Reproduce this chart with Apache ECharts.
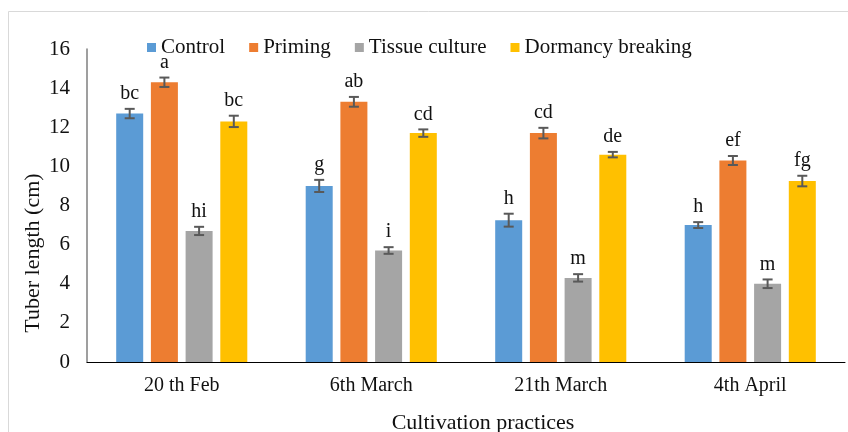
<!DOCTYPE html>
<html>
<head>
<meta charset="utf-8">
<script src="https://cdn.jsdelivr.net/npm/echarts@6/dist/echarts.min.js"></script>
<style>html,body{margin:0;padding:0;background:#fff;}#c{width:848px;height:432px;}</style>
</head>
<body>
<div id="c"></div>
<script>
const categories = ['20 th Feb', '6th March', '21th March', '4th April'];
const seriesNames = ['Control', 'Priming', 'Tissue culture', 'Dormancy breaking'];
const control = [12.7, 9.0, 7.25, 7.0];
const priming = [14.3, 13.3, 11.7, 10.3];
const tissue = [6.7, 5.7, 4.3, 4.0];
const dormancy = [12.3, 11.7, 10.6, 9.25];
const controlErr = [0.24, 0.31, 0.33, 0.15];
const primingErr = [0.24, 0.25, 0.27, 0.23];
const tissueErr = [0.21, 0.17, 0.19, 0.22];
const dormancyErr = [0.29, 0.19, 0.14, 0.27];
const controlLetters = ['bc', 'g', 'h', 'h'];
const primingLetters = ['a', 'ab', 'cd', 'ef'];
const tissueLetters = ['hi', 'i', 'm', 'm'];
const dormancyLetters = ['bc', 'cd', 'de', 'fg'];
const yTicks = [0, 2, 4, 6, 8, 10, 12, 14, 16];

const colors = ['#5B9BD5', '#ED7D31', '#A5A5A5', '#FFC000'];
const values = [control, priming, tissue, dormancy];
const errs = [controlErr, primingErr, tissueErr, dormancyErr];
const letters = [controlLetters, primingLetters, tissueLetters, dormancyLetters];
const FONT = 'Liberation Serif';
const BW = 0.1425, GAP = 0.285;

const chart = echarts.init(document.getElementById('c'));
const series = [];
values.forEach((vals, i) => {
  series.push({
    name: seriesNames[i], type: 'bar', data: vals,
    barWidth: (BW * 100) + '%', barGap: (GAP * 100) + '%',
    itemStyle: { color: colors[i] }
  });
});
values.forEach((vals, i) => {
  series.push({
    name: seriesNames[i] + ' err', type: 'custom', z: 10,
    data: vals.map((v, k) => [k, v, errs[i][k], letters[i][k]]),
    encode: { x: 0, y: 1 },
    renderItem: function (params, api) {
      const k = api.value(0), v = api.value(1), e = api.value(2);
      const band = api.size([1, 0])[0];
      const bw = band * BW, gap = bw * GAP;
      const total = 4 * bw + 3 * gap;
      const cx = api.coord([k, v])[0] - total / 2 + i * (bw + gap) + bw / 2;
      const top = api.coord([k, v + e])[1];
      const bot = api.coord([k, v - e])[1];
      const st = { stroke: '#595959', lineWidth: 2 };
      return {
        type: 'group',
        children: [
          { type: 'line', shape: { x1: cx, y1: top, x2: cx, y2: bot }, style: st },
          { type: 'line', shape: { x1: cx - 5, y1: top, x2: cx + 5, y2: top }, style: st },
          { type: 'line', shape: { x1: cx - 5, y1: bot, x2: cx + 5, y2: bot }, style: st },
          { type: 'text', x: cx, y: top - 5,
            style: { text: letters[i][k], fill: '#111', font: '20px "' + FONT + '"', align: 'center', verticalAlign: 'bottom' } }
        ]
      };
    }
  });
});

chart.setOption({
  animation: false,
  backgroundColor: '#fff',
  textStyle: { fontFamily: FONT },
  grid: { left: 87, right: 3, top: 49, bottom: 70 },
  legend: {
    data: seriesNames, left: 147, top: 37, padding: 0,
    icon: 'rect', itemWidth: 9, itemHeight: 9, itemGap: 24,
    textStyle: { fontFamily: FONT, fontSize: 21, color: '#111' }
  },
  xAxis: {
    type: 'category', data: categories,
    axisLine: { lineStyle: { color: '#000', width: 1 } },
    axisTick: { show: false },
    axisLabel: { fontFamily: FONT, fontSize: 20, color: '#111', margin: 14 }
  },
  yAxis: {
    type: 'value', min: yTicks[0], max: yTicks[yTicks.length - 1], interval: 2,
    axisLine: { show: true, lineStyle: { color: '#7f7f7f', width: 1.5 } },
    axisTick: { show: false },
    splitLine: { show: false },
    axisLabel: { fontFamily: FONT, fontSize: 21, color: '#111', margin: 17 }
  },
  graphic: [
    { type: 'rect', shape: { x: 8.5, y: 11.5, width: 900, height: 500 }, style: { fill: 'none', stroke: '#d9d9d9', lineWidth: 1 }, silent: true, z: -10 },
    { type: 'text', x: 33, y: 253, rotation: Math.PI / 2,
      style: { text: 'Tuber length (cm)', font: '22px "' + FONT + '"', fill: '#111', align: 'center', verticalAlign: 'middle' } },
    { type: 'text', x: 483, y: 423,
      style: { text: 'Cultivation practices', font: '22px "' + FONT + '"', fill: '#111', align: 'center', verticalAlign: 'middle' } }
  ],
  series: series
});
</script>
</body>
</html>
